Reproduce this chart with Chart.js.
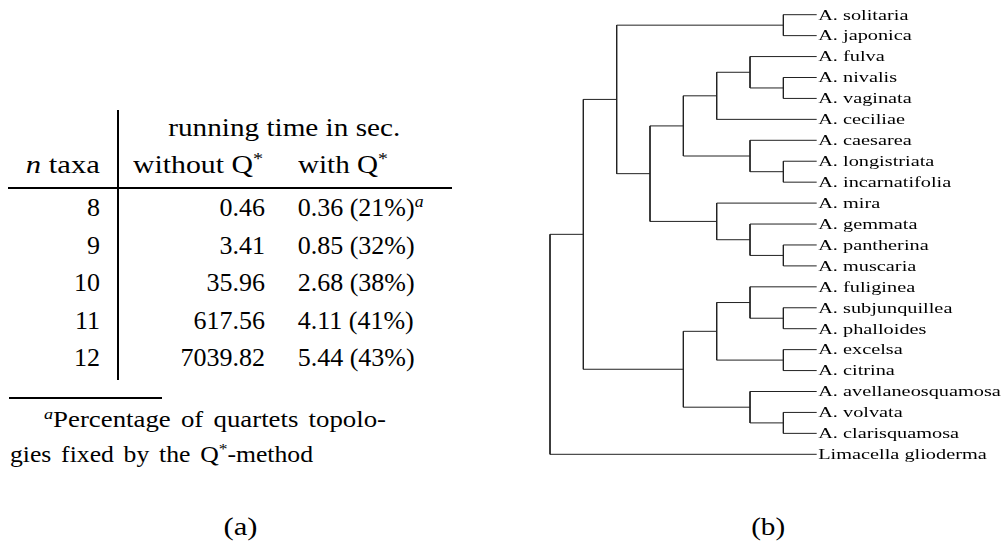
<!DOCTYPE html>
<html>
<head>
<meta charset="utf-8">
<title>Q* running times and Amanita tree</title>
<script src="https://cdn.jsdelivr.net/npm/chart.js@4.4.1/dist/chart.umd.min.js"></script>
<style>
    html, body { margin: 0; padding: 0; background: #fff; overflow: hidden; }
    #page { position: relative; width: 1006px; height: 543px; color: #000; }
    .cell { position: absolute; font-family: "Liberation Serif", "Times New Roman", serif; color: #000;
            font-size: 26px; line-height: 37.5px; height: 37.5px; white-space: nowrap; }
    .note { font-size: 23px; line-height: 35px; height: 35px; word-spacing: 3px; }
    .cap { font-size: 26px; line-height: 30px; }
    .fit { display: inline-block; }
    .rule { position: absolute; background: #000; }
    sup { font-size: 0.68em; line-height: 0; position: relative; vertical-align: baseline; top: -0.5em; }
    #treeBox { position: absolute; left: 500px; top: 0; width: 506px; height: 543px; }
</style>
</head>
<body>
<div id="page">
    <div id="table"></div>
    <div class="rule" style="left:8px; top:186.5px; width:444px; height:2px;"></div>
    <div class="rule" style="left:117px; top:110px; width:2px; height:269.5px;"></div>
    <div class="rule" style="left:9px; top:397.3px; width:153px; height:2px;"></div>
    <div id="treeBox"><canvas id="treeChart"></canvas></div>
</div>
<script>
// (a) running time in sec.
const taxaCounts = [8, 9, 10, 11, 12];
const timeWithout = [0.46, 3.41, 35.96, 617.56, 7039.82];
const timeWith = [0.36, 0.85, 2.68, 4.11, 5.44];
const fixedPercent = [21, 32, 38, 41, 43];

// (b) taxa, top to bottom, and the tree over their indices
const taxonNames = [
    "A. solitaria", "A. japonica", "A. fulva", "A. nivalis", "A. vaginata",
    "A. ceciliae", "A. caesarea", "A. longistriata", "A. incarnatifolia",
    "A. mira", "A. gemmata", "A. pantherina", "A. muscaria", "A. fuliginea",
    "A. subjunquillea", "A. phalloides", "A. excelsa", "A. citrina",
    "A. avellaneosquamosa", "A. volvata", "A. clarisquamosa", "Limacella glioderma",
];
const treeTopology = [
    [
        [[0, 1], [[[[2, [3, 4]], 5], [6, [7, 8]]], [9, [10, [11, 12]]]]],
        [[[13, [14, 15]], [16, 17]], [18, [19, 20]]],
    ],
    21,
];

// build the table; fitTo stretches the text to the width of the TeX original
var tableEl = document.getElementById("table");
function addCell(html, left, top, width, align, fitTo, extra) {
    var el = document.createElement("div");
    el.className = "cell " + (extra || "");
    el.style.left = left + "px";
    el.style.top = top + "px";
    if (width) {
        el.style.width = width + "px";
        el.style.textAlign = align;
    }
    el.innerHTML = '<span class="fit">' + html + "</span>";
    tableEl.appendChild(el);
    if (fitTo) {
        var span = el.firstChild;
        var w = span.getBoundingClientRect().width;
        span.style.transformOrigin = (align || "left") + " center";
        span.style.transform = "scaleX(" + (fitTo / w).toFixed(3) + ")";
    }
    return el;
}

addCell("running time in sec.", 134, 109.2, 300, "center", 232);
addCell("<i>n</i> taxa", 0, 146.2, 100, "right", 74);
addCell("without Q<sup>*</sup>", 133.3, 146.2, 0, "left", 130);
addCell("with Q<sup>*</sup>", 297.7, 146.2, 0, "left", 90);

taxaCounts.forEach(function (n, i) {
    var top = 189.2 + 37.5 * i;
    addCell(String(n), 0, top, 100, "right");
    addCell(timeWithout[i].toFixed(2), 120, top, 145, "right");
    addCell(
        timeWith[i].toFixed(2) + " (" + fixedPercent[i] + "%)" + (i === 0 ? "<sup><i>a</i></sup>" : ""),
        297.7, top
    );
});

// footnote and captions
addCell("<sup><i>a</i></sup>Percentage of quartets topolo-", 44.3, 402.1, 0, "left", 342, "note");
addCell("gies fixed by the Q<sup>*</sup>-method", 10, 437.1, 0, "left", 303, "note");
addCell("(a)", 200, 512.4, 80, "center", 34, "cap");
addCell("(b)", 728.3, 512.4, 80, "center", 34, "cap");

// tree layout: leaves at the right, nodes placed by their height
function nodeHeight(node) {
    return Array.isArray(node) ? 1 + Math.max.apply(null, node.map(nodeHeight)) : 0;
}
const treeDepth = nodeHeight(treeTopology);
var branchPoints = [];

function layout(node) {
    if (!Array.isArray(node)) return { x: treeDepth, y: node };
    var kids = node.map(layout);
    var x = treeDepth - nodeHeight(node);
    var first = kids[0].y, last = kids[kids.length - 1].y;
    branchPoints.push({ x: x, y: first }, { x: x, y: last }, { x: x, y: null });
    kids.forEach(function (k) {
        branchPoints.push({ x: x, y: k.y }, { x: k.x, y: k.y }, { x: k.x, y: null });
    });
    return { x: x, y: (first + last) / 2 };
}
layout(treeTopology);

// leaf names, drawn wide like the original figure
const taxonLabels = {
    id: "taxonLabels",
    afterDatasetsDraw(chart) {
        const ctx = chart.ctx;
        const xs = chart.scales.x, ys = chart.scales.y;
        const x0 = xs.getPixelForValue(treeDepth) + 1.5;
        ctx.save();
        ctx.fillStyle = "#000";
        ctx.font = '14.5px "Liberation Serif", serif';
        ctx.textBaseline = "alphabetic";
        taxonNames.forEach(function (name, i) {
            ctx.save();
            ctx.translate(x0, ys.getPixelForValue(i) + 4.8);
            ctx.scale(1.4, 1);
            ctx.fillText(name, 0, 0);
            ctx.restore();
        });
        ctx.restore();
    },
};

var treeChart = new Chart(document.getElementById("treeChart"), {
    type: "scatter",
    data: {
        datasets: [
            {
                data: branchPoints,
                showLine: true,
                spanGaps: false,
                borderColor: "#222",
                borderWidth: 1,
                pointRadius: 0,
                clip: false,
            },
        ],
    },
    options: {
        responsive: true,
        maintainAspectRatio: false,
        animation: false,
        layout: { padding: { left: 50, right: 189.3, top: 14.7, bottom: 88.7 } },
        scales: {
            x: { type: "linear", min: 0, max: treeDepth, display: false },
            y: { type: "linear", min: 0, max: taxonNames.length - 1, reverse: true, display: false },
        },
        plugins: {
            legend: { display: false },
            tooltip: { enabled: false },
        },
    },
    plugins: [taxonLabels],
});
</script>
</body>
</html>
